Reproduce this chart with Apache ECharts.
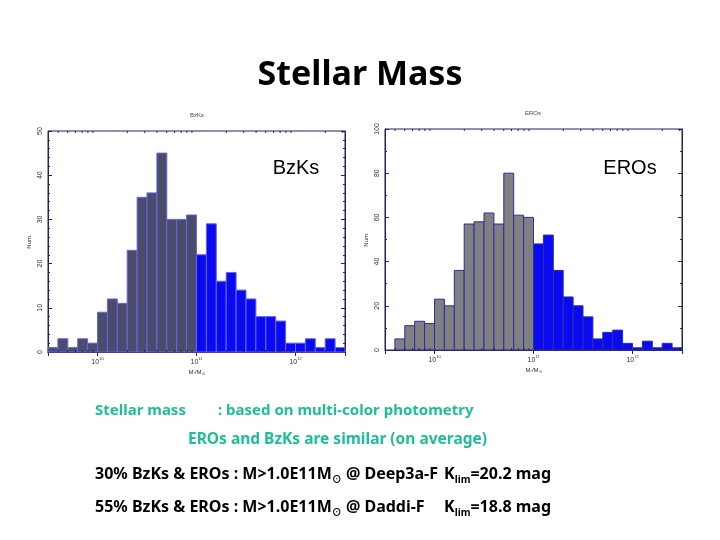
<!DOCTYPE html>
<html>
<head>
<meta charset="UTF-8">
<title>Stellar Mass</title>
<script src="https://cdn.jsdelivr.net/npm/echarts@6/dist/echarts.min.js"></script>
<style>
  html, body { margin: 0; padding: 0; background: #fff; }
  #main { width: 720px; height: 540px; }
</style>
</head>
<body>
<div id="main"></div>
<script>
// lower edge of each bin, log10(M*/Msun), bin width 0.1 dex
var binLo = [9.5, 9.6, 9.7, 9.8, 9.9, 10.0, 10.1, 10.2, 10.3, 10.4,
             10.5, 10.6, 10.7, 10.8, 10.9, 11.0, 11.1, 11.2, 11.3, 11.4,
             11.5, 11.6, 11.7, 11.8, 11.9, 12.0, 12.1, 12.2, 12.3, 12.4];
var bzkCounts = [1, 3, 1, 3, 2, 9, 12, 11, 23, 35,
                 36, 45, 30, 30, 31, 22, 29, 16, 18, 14,
                 12, 8, 8, 7, 2, 2, 3, 1, 3, 1];
var eroCounts = [0, 5, 11, 13, 12, 23, 20, 36, 57, 58,
                 62, 57, 80, 61, 60, 48, 52, 36, 24, 20,
                 15, 5, 8, 9, 3, 1, 4, 1, 3, 1];
var binWidth = 0.1;
var massCut = 11.0;   // bins above 1e11 Msun are drawn blue
// minor log ticks on the mass axis
var minorTickMass = [4e9, 5e9, 6e9, 7e9, 8e9, 9e9,
                     2e10, 3e10, 4e10, 5e10, 6e10, 7e10, 8e10, 9e10,
                     2e11, 3e11, 4e11, 5e11, 6e11, 7e11, 8e11, 9e11,
                     2e12, 3e12];

var frameColor = '#23235e';
var smallFont = 'Liberation Sans';
var slideFont = '"Noto Sans", "Noto Sans CJK JP", sans-serif';
var teal = '#1ebe96';

var myChart = echarts.init(document.getElementById('main'));

function barRender(fill, fillHigh, stroke) {
    return function (params, api) {
        var x0 = api.value(0);
        var n = api.value(1);
        if (!n) return null;
        var p0 = api.coord([x0, 0]);
        var p1 = api.coord([x0 + binWidth, n]);
        return {
            type: 'rect',
            shape: { x: p0[0], y: p1[1], width: p1[0] - p0[0], height: p0[1] - p1[1] },
            style: { fill: x0 >= massCut - 1e-6 ? fillHigh : fill, stroke: stroke, lineWidth: 1 }
        };
    };
}

function minorRender(yMax) {
    return function (params, api) {
        var x = api.value(0);
        var b = api.coord([x, 0]);
        var t = api.coord([x, yMax]);
        return {
            type: 'group',
            children: [
                { type: 'line', shape: { x1: b[0], y1: b[1], x2: b[0], y2: b[1] - 2 }, style: { stroke: frameColor, lineWidth: 1 } },
                { type: 'line', shape: { x1: t[0], y1: t[1], x2: t[0], y2: t[1] + 2 }, style: { stroke: frameColor, lineWidth: 1 } }
            ]
        };
    };
}

function massAxis(gridIndex, pos) {
    return {
        type: 'value', gridIndex: gridIndex, position: pos,
        min: 9.5, max: 12.5, splitNumber: 3,
        axisLine: { show: true, lineStyle: { color: frameColor } },
        axisTick: { show: true, inside: true, length: 4, lineStyle: { color: frameColor } },
        splitLine: { show: false },
        axisLabel: {
            show: pos === 'bottom', margin: 5, color: '#333',
            formatter: function (v) {
                return Math.abs(v - Math.round(v)) < 1e-6 ? '{b|10}{s|' + Math.round(v) + '}' : '';
            },
            rich: {
                b: { fontSize: 7, fontFamily: smallFont, color: '#333', verticalAlign: 'top', padding: [2, 0, 0, 0] },
                s: { fontSize: 4, fontFamily: smallFont, color: '#333', verticalAlign: 'top' }
            }
        },
        name: pos === 'bottom' ? '{m|M}{s|*}{m|/M}{s|⊙}' : '',
        nameLocation: 'middle', nameGap: 17,
        nameTextStyle: {
            rich: {
                m: { fontSize: 6, fontFamily: smallFont, color: '#333', verticalAlign: 'top' },
                s: { fontSize: 4, fontFamily: smallFont, color: '#333', verticalAlign: 'top', padding: [3, 0, 0, 0] }
            }
        }
    };
}

function countAxis(gridIndex, pos, max, interval, minorSplit) {
    return {
        type: 'value', gridIndex: gridIndex, position: pos,
        min: 0, max: max, interval: interval,
        axisLine: { show: true, lineStyle: { color: frameColor } },
        axisTick: { show: true, inside: true, length: 4, lineStyle: { color: frameColor } },
        minorTick: { show: true, splitNumber: minorSplit, length: 2, lineStyle: { color: frameColor } },
        splitLine: { show: false },
        axisLabel: { show: pos === 'left', rotate: 90, margin: 4, fontSize: 7, fontFamily: smallFont, color: '#333' },
        name: pos === 'left' ? 'Num.' : '',
        nameLocation: 'middle', nameGap: 16, nameRotate: 90,
        nameTextStyle: { fontSize: 6, fontFamily: smallFont, color: '#333' }
    };
}

var lineRich = {
    n: { font: 'bold 16px ' + slideFont, verticalAlign: 'top' },
    s: { font: 'bold 10px ' + slideFont, verticalAlign: 'top', padding: [9, 0, 0, 0] }
};

var option = {
    animation: false,
    backgroundColor: '#fff',
    grid: [
        { left: 48, top: 131, width: 297, height: 221, show: true, borderColor: frameColor, borderWidth: 1 },
        { left: 385, top: 129, width: 297, height: 221, show: true, borderColor: frameColor, borderWidth: 1 }
    ],
    xAxis: [massAxis(0, 'bottom'), massAxis(0, 'top'), massAxis(1, 'bottom'), massAxis(1, 'top')],
    yAxis: [countAxis(0, 'left', 50, 10, 5), countAxis(0, 'right', 50, 10, 5),
            countAxis(1, 'left', 100, 20, 2), countAxis(1, 'right', 100, 20, 2)],
    series: [
        {
            name: 'BzKs', type: 'custom', xAxisIndex: 0, yAxisIndex: 0,
            renderItem: barRender('#4b4b6b', '#0a0af2', '#6565e8'),
            encode: { x: 0, y: 1 },
            data: binLo.map(function (x, i) { return [x, bzkCounts[i]]; })
        },
        {
            name: 'EROs', type: 'custom', xAxisIndex: 2, yAxisIndex: 2,
            renderItem: barRender('#808080', '#0a0af2', '#2c2ca6'),
            encode: { x: 0, y: 1 },
            data: binLo.map(function (x, i) { return [x, eroCounts[i]]; })
        },
        {
            type: 'custom', xAxisIndex: 0, yAxisIndex: 0, silent: true,
            renderItem: minorRender(50), encode: { x: 0 },
            data: minorTickMass.map(function (m) { return [Math.log10(m)]; })
        },
        {
            type: 'custom', xAxisIndex: 2, yAxisIndex: 2, silent: true,
            renderItem: minorRender(100), encode: { x: 0 },
            data: minorTickMass.map(function (m) { return [Math.log10(m)]; })
        }
    ],
    graphic: [
        { type: 'text', style: { text: 'Stellar Mass', x: 360, y: 75, align: 'center', verticalAlign: 'middle',
            font: 'bold 34px ' + slideFont, fill: '#000' } },
        // small plot titles
        { type: 'text', style: { text: 'BzKs', x: 197, y: 115, align: 'center', verticalAlign: 'middle',
            font: '6px ' + smallFont, fill: '#444' } },
        { type: 'text', style: { text: 'EROs', x: 533, y: 113, align: 'center', verticalAlign: 'middle',
            font: '6px ' + smallFont, fill: '#444' } },
        // big labels inside the plots
        { type: 'text', style: { text: 'BzKs', x: 296, y: 168, align: 'center', verticalAlign: 'middle',
            font: '20px ' + smallFont, fill: '#000' } },
        { type: 'text', style: { text: 'EROs', x: 630, y: 168, align: 'center', verticalAlign: 'middle',
            font: '20px ' + smallFont, fill: '#000' } },
        // slide text
        { type: 'text', style: { text: 'Stellar mass', x: 95, y: 411, verticalAlign: 'middle',
            font: 'bold 15px ' + slideFont, fill: teal } },
        { type: 'text', style: { text: ': based on multi-color photometry', x: 218, y: 411, verticalAlign: 'middle',
            font: 'bold 15px ' + slideFont, fill: teal } },
        { type: 'text', style: { text: 'EROs and BzKs are similar (on average)', x: 188, y: 440, verticalAlign: 'middle',
            font: 'bold 15.5px ' + slideFont, fill: teal } },
        { type: 'text', style: { x: 95, y: 466, fill: '#000',
            text: '{n|30% BzKs & EROs : M>1.0E11M}{s|⊙}{n| @ Deep3a-F}', rich: lineRich } },
        { type: 'text', style: { x: 551, y: 466, align: 'right', fill: '#000',
            text: '{n|K}{s|lim}{n|=20.2 mag}', rich: lineRich } },
        { type: 'text', style: { x: 95, y: 499, fill: '#000',
            text: '{n|55% BzKs & EROs : M>1.0E11M}{s|⊙}{n| @ Daddi-F}', rich: lineRich } },
        { type: 'text', style: { x: 551, y: 499, align: 'right', fill: '#000',
            text: '{n|K}{s|lim}{n|=18.8 mag}', rich: lineRich } }
    ]
};

myChart.setOption(option);
</script>
</body>
</html>
